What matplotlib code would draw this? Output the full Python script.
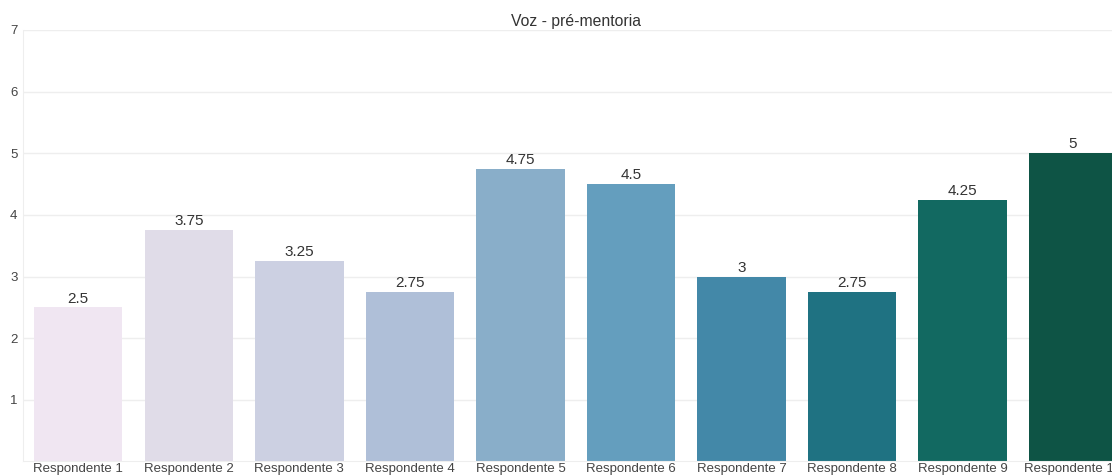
import matplotlib
matplotlib.use("Agg")
import matplotlib.pyplot as plt

# data
respondentes = ["Respondente 1", "Respondente 2", "Respondente 3", "Respondente 4",
                "Respondente 5", "Respondente 6", "Respondente 7", "Respondente 8",
                "Respondente 9", "Respondente 10"]
notas = [2.5, 3.75, 3.25, 2.75, 4.75, 4.5, 3, 2.75, 4.25, 5]
yticks = [1, 2, 3, 4, 5, 6, 7]

# muted PuBuGn-like colours as they appear in the reference
cores = ["#f0e6f2", "#e0dce8", "#ccd0e2", "#afbfd8", "#89aec9",
         "#649ebe", "#4388a8", "#1f7282", "#126961", "#0e5445"]

plt.rcParams['font.family'] = ['Liberation Sans', 'DejaVu Sans']

fig = plt.figure(figsize=(11.12, 4.76), dpi=100)
# the reference crops the right side of the plot, so the axes run past the figure edge
ax = fig.add_axes([0.0207, 0.0305, 0.994, 0.9065])

barras = ax.bar(range(len(notas)), notas, width=0.8, color=cores)
for b, v in zip(barras, notas):
    ax.text(b.get_x() + b.get_width() / 2, v + 0.03, f"{v:g}",
            ha="center", va="bottom", fontsize=11, color="#333333")

ax.set_xlim(-0.5, len(notas) - 0.5)
ax.set_ylim(0, 7)
ax.set_yticks(yticks)
ax.set_xticks(range(len(notas)))
ax.set_xticklabels(respondentes)
ax.tick_params(axis="both", length=0, labelsize=9.5, colors="#444444")
ax.tick_params(axis="x", pad=1)
ax.tick_params(axis="y", pad=4)

ax.grid(axis="y", color="#eeeeee", linewidth=1)
ax.set_axisbelow(True)
for s in ["top", "right"]:
    ax.spines[s].set_visible(False)
for s in ["left", "bottom"]:
    ax.spines[s].set_color("#eeeeee")

ax.set_title("Voz - pré-mentoria", fontsize=11.3, color="#333333", pad=3)

fig.savefig("out.png", dpi=100)
